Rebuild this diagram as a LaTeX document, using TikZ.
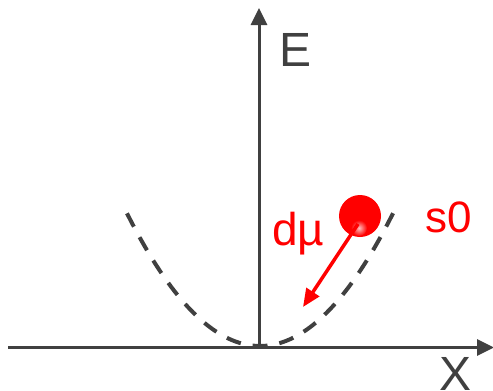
\documentclass[tikz,border=0pt]{standalone}
\usepackage{fontspec}
\setmainfont{Liberation Sans}
\usetikzlibrary{arrows.meta}
\definecolor{axisgray}{HTML}{404040}
\definecolor{ballred}{HTML}{FF0000}
\begin{document}
\begin{tikzpicture}[x=1pt,y=-1pt,
  axis/.style={draw=axisgray,line width=3pt,-{Triangle[length=17pt,width=16pt]}},
  curve/.style={draw=axisgray,line width=4pt,dash pattern=on 15pt off 12pt},
  lbl/.style={inner sep=0pt,anchor=base west},
  push/.style={draw=ballred,line width=3.5pt,-{Triangle[length=18pt,width=15pt]}}]
\useasboundingbox (0,0) rectangle (493,391);
% parabola
\draw[curve] plot[domain=-13.3:13.5,samples=80,smooth] ({260+10*\x},{346-0.75*\x*\x});
% axes
\coordinate (o) at (259,347.5);
\coordinate (xl) at (8,347.5);
\coordinate (xr) at (494,347.5);
\coordinate (yt) at (259,8);
\draw[axis] (xl) -- (xr);
\draw[axis] (o) -- (yt);
% ball
\node[circle,fill=ballred,minimum size=42pt,inner sep=0pt] (ball) at (360,216) {};
\shade[inner color=red!25!white,outer color=ballred] (359,228) circle (8);
\coordinate (start) at (358,224);
\coordinate (tip) at (303,307);
\draw[push] (start) -- (tip);
% labels
\node[lbl,font=\fontsize{48}{48}\selectfont,text=axisgray] (E) at (279,66) {E};
\node[lbl,font=\fontsize{46}{46}\selectfont,text=ballred] (dmu) at (272,245) {dµ};
\node[lbl,font=\fontsize{44}{44}\selectfont,text=ballred] (s0) at (425,232) {s0};
\node[lbl,font=\fontsize{48}{48}\selectfont,text=axisgray] (X) at (439,390) {X};
\end{tikzpicture}
\end{document}
